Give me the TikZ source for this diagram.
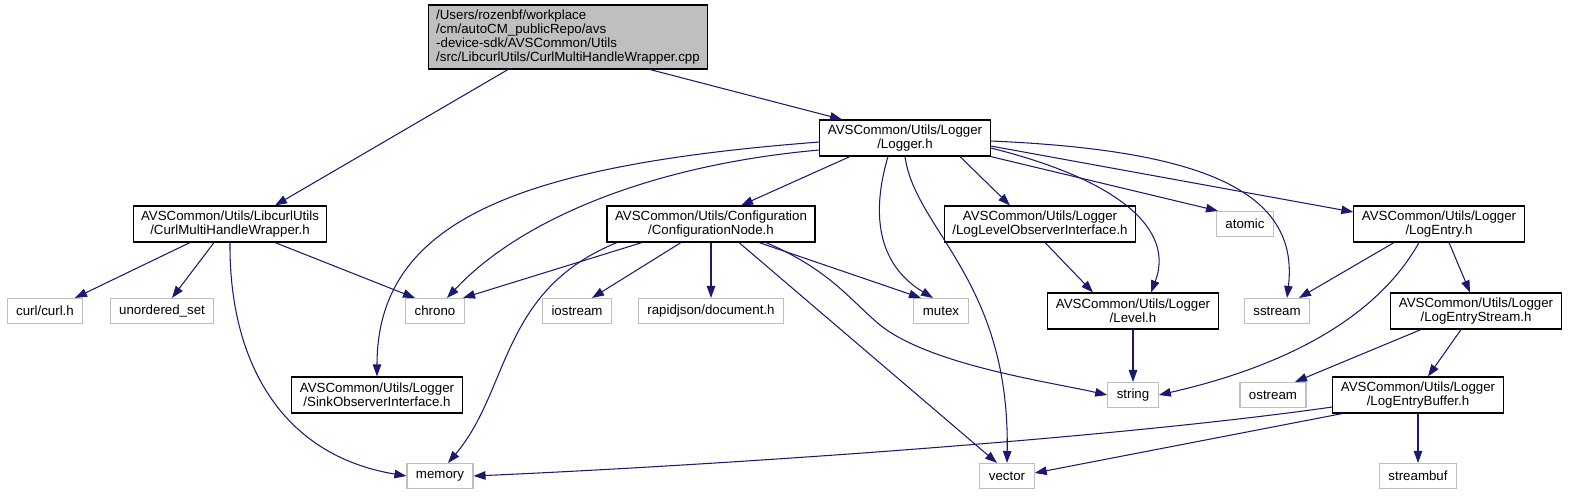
\documentclass[tikz,border=0pt]{standalone}
\usepackage{fontspec}
\setmainfont{Liberation Sans}
\usetikzlibrary{arrows.meta}
\definecolor{edgeblue}{HTML}{191970}
\definecolor{extgrey}{HTML}{BFBFBF}
\newcommand\dotfont{\fontsize{13.3}{14}\selectfont}

\begin{document}
\begin{tikzpicture}[x=1pt, y=1pt,
    hdr/.style={rectangle, draw=black, fill=white, line width=1.1pt, align=center,
                font=\dotfont, inner xsep=8pt, inner ysep=2pt, minimum height=36pt},
    ext/.style={rectangle, draw=extgrey, fill=white, line width=1.1pt,
                font=\dotfont, inner xsep=9pt, inner ysep=2pt, minimum height=25pt},
    srcfile/.style={hdr, fill=extgrey, align=left, minimum height=64pt},
    >={Triangle[length=12pt, width=8.5pt]},
    dep/.style={->, draw=edgeblue, line width=1.05pt}
  ]
  \useasboundingbox (0,0) rectangle (1570,-496);
  % Rows
  \def\rA{-138} \def\rB{-224} \def\rC{-311} \def\rD{-395} \def\rE{-476}
  % Source file and documented headers
  \node[srcfile] (root) at (568,-37) {/Users/rozenbf/workplace\\/cm/autoCM\_publicRepo/avs\\-device-sdk/AVSCommon/Utils\\/src/LibcurlUtils/CurlMultiHandleWrapper.cpp};
  \node[hdr] (logger) at (905,\rA) {AVSCommon/Utils/Logger\\/Logger.h};
  \node[hdr] (curlmulti) at (230,\rB) {AVSCommon/Utils/LibcurlUtils\\/CurlMultiHandleWrapper.h};
  \node[hdr] (confnode) at (711,\rB) {AVSCommon/Utils/Configuration\\/ConfigurationNode.h};
  \node[hdr] (loglevelobs) at (1040,\rB) {AVSCommon/Utils/Logger\\/LogLevelObserverInterface.h};
  \node[hdr] (logentry) at (1439,\rB) {AVSCommon/Utils/Logger\\/LogEntry.h};
  \node[hdr] (level) at (1133,\rC) {AVSCommon/Utils/Logger\\/Level.h};
  \node[hdr] (logentrystream) at (1476,\rC) {AVSCommon/Utils/Logger\\/LogEntryStream.h};
  \node[hdr] (sinkobs) at (377,\rD) {AVSCommon/Utils/Logger\\/SinkObserverInterface.h};
  \node[hdr] (logentrybuffer) at (1418,\rD) {AVSCommon/Utils/Logger\\/LogEntryBuffer.h};
  % System headers
  \foreach \nm/\xx/\yy/\txt in {atomic/1245/\rB/atomic, curl/45/\rC/{curl/curl.h},
      unordered/162/\rC/{unordered\_set}, chrono/435/\rC/chrono, iostream/577/\rC/iostream,
      rapidjson/711/\rC/{rapidjson/document.h}, mutex/941/\rC/mutex, sstream/1277/\rC/sstream,
      string/1133/\rD/string, ostream/1273/\rD/ostream, memory/440/\rE/memory,
      vector/1007/\rE/vector, streambuf/1418/\rE/streambuf}{
    \node[ext] (\nm) at (\xx,\yy) {\txt};
  }
  % Includes of the source file
  \draw[dep] ([xshift=-60pt]root.south) -- ([xshift=45pt]curlmulti.north);
  \draw[dep] ([xshift=82pt]root.south) -- ([xshift=-63pt]logger.north);
  % CurlMultiHandleWrapper.h
  \draw[dep] ([xshift=-40pt]curlmulti.south) -- ([xshift=30pt]curl.north);
  \draw[dep] ([xshift=-16pt]curlmulti.south) -- ([xshift=10pt]unordered.north);
  \draw[dep] ([xshift=45pt]curlmulti.south) -- ([xshift=-20pt]chrono.north);
  \draw[dep] (curlmulti.south) .. controls (229,-360) and (280,-455) .. (memory.west);
  % Logger.h
  \draw[dep] ([yshift=-12pt]logger.west) .. controls (650,-165) and (520,-220) .. ([xshift=12pt]chrono.north);
  \draw[dep] ([yshift=-4pt]logger.west) .. controls (520,-165) and (377,-220) .. (sinkobs.north);
  \draw[dep] ([xshift=-55pt]logger.south) -- ([xshift=30pt]confnode.north);
  \draw[dep] ([xshift=-17pt]logger.south) .. controls (875,-200) and (870,-260) .. ([xshift=-8pt]mutex.north);
  \draw[dep] (logger.south) .. controls (915,-230) and (1010,-280) .. (vector.north);
  \draw[dep] ([xshift=55pt]logger.south) -- ([xshift=-30pt]loglevelobs.north);
  \draw[dep] ([yshift=-10pt]logger.east) .. controls (1120,-180) and (1175,-230) .. ([xshift=18pt]level.north);
  \draw[dep] (logger.south east) -- ([xshift=-27pt]atomic.north);
  \draw[dep] ([yshift=-3pt]logger.east) .. controls (1200,-150) and (1300,-190) .. ([xshift=10pt]sstream.north);
  \draw[dep] ([yshift=-8pt]logger.east) -- ([yshift=12pt]logentry.west);
  % ConfigurationNode.h
  \draw[dep] ([xshift=-69pt]confnode.south) -- ([xshift=28pt]chrono.north);
  \draw[dep] ([xshift=-94pt]confnode.south) .. controls (500,-290) and (510,-390) .. ([xshift=8pt]memory.north);
  \draw[dep] ([xshift=-30pt]confnode.south) -- ([xshift=15pt]iostream.north);
  \draw[dep] (confnode.south) -- (rapidjson.north);
  \draw[dep] ([xshift=48pt]confnode.south) -- ([xshift=-20pt]mutex.north);
  \draw[dep] ([xshift=28pt]confnode.south) -- ([xshift=-10pt]vector.north);
  \draw[dep] ([xshift=55pt]confnode.south) .. controls (830,-270) and (850,-300) .. (880,-325)
             .. controls (930,-365) and (1050,-382) .. (string.west);
  % Logger headers
  \draw[dep] ([xshift=5pt]loglevelobs.south) -- ([xshift=-40pt]level.north);
  \draw[dep] (level.south) -- (string.north);
  \draw[dep] ([xshift=-45pt]logentry.south) -- ([xshift=22pt]sstream.north);
  \draw[dep] ([xshift=-20pt]logentry.south) .. controls (1370,-330) and (1260,-372) .. (string.east);
  \draw[dep] ([xshift=10pt]logentry.south) -- ([xshift=-6pt]logentrystream.north);
  \draw[dep] ([xshift=-55pt]logentrystream.south) -- ([xshift=22pt]ostream.north);
  \draw[dep] ([xshift=-15pt]logentrystream.south) -- ([xshift=10pt]logentrybuffer.north);
  \draw[dep] ([yshift=-12pt]logentrybuffer.west) .. controls (1100,-440) and (700,-466) .. (memory.east);
  \draw[dep] ([xshift=10pt]logentrybuffer.south west) -- ([yshift=3pt]vector.east);
  \draw[dep] (logentrybuffer.south) -- (streambuf.north);
\end{tikzpicture}
\end{document}
